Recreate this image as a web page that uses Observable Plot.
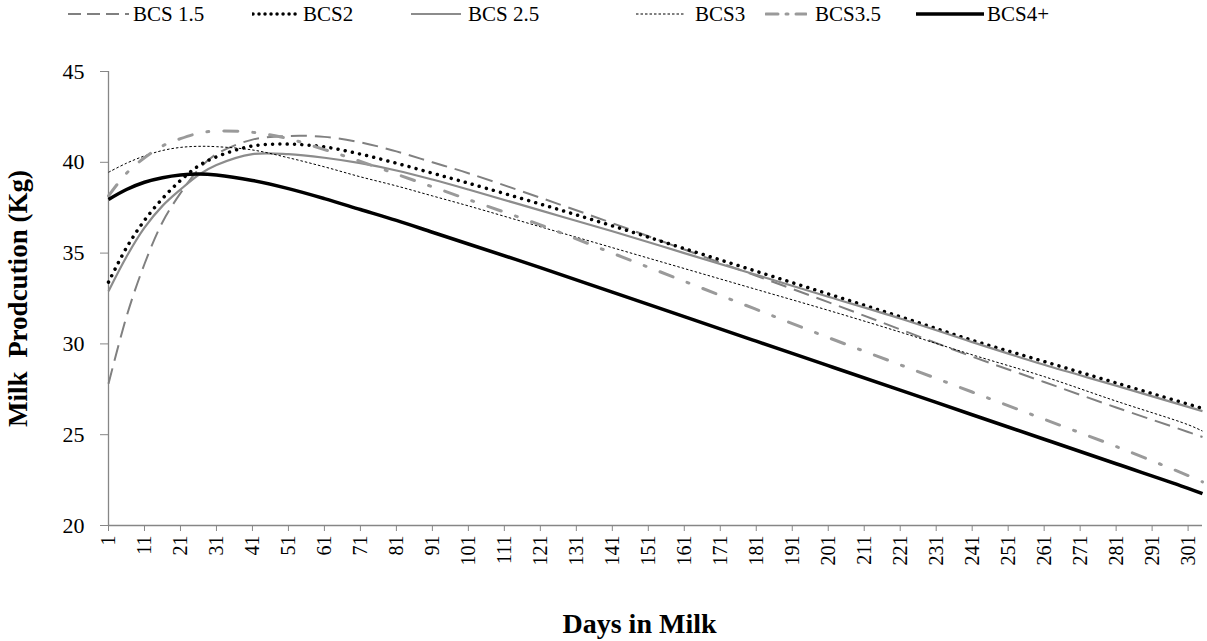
<!DOCTYPE html>
<html><head><meta charset="utf-8">
<script src="https://cdn.jsdelivr.net/npm/d3@7"></script>
<script src="https://cdn.jsdelivr.net/npm/@observablehq/plot@0.6"></script>
<style>
body{margin:0;background:#fff;font-family:"Liberation Serif",serif;}
#legend{height:30px;position:relative;font-size:21px;color:#000;}
.sw,.lt{position:absolute;top:0;height:28px;display:flex;align-items:center;white-space:nowrap;}
#chart svg{display:block;}
</style></head><body>
<div id="legend"></div>
<div id="chart"></div>
<script>
const days = [1,6,11,16,21,26,31,41,51,61,71,81,91,101,121,141,161,181,201,221,241,261,281,301,305];
const bcs15 = [27.8,31.5,34.4,36.7,38.3,39.6,40.45,41.25,41.45,41.4,41.1,40.6,40.0,39.4,38.05,36.65,35.2,33.75,32.3,30.8,29.3,27.9,26.5,25.15,24.87];
const bcs2  = [33.4,35.3,36.8,38.0,39.0,39.8,40.3,40.9,41.0,40.85,40.45,39.95,39.4,38.85,37.7,36.5,35.25,34.0,32.75,31.5,30.2,29.03,27.85,26.68,26.45];
const bcs25 = [32.9,34.8,36.4,37.6,38.5,39.3,39.85,40.45,40.45,40.25,39.95,39.55,39.05,38.5,37.35,36.2,35.0,33.8,32.6,31.4,30.1,28.85,27.7,26.53,26.3];
const bcs3  = [39.45,39.95,40.35,40.65,40.82,40.88,40.86,40.68,40.25,39.75,39.2,38.7,38.15,37.6,36.45,35.3,34.15,33.0,31.85,30.65,29.4,28.2,26.85,25.55,25.2];
const bcs35 = [38.15,39.4,40.25,40.9,41.3,41.6,41.72,41.65,41.3,40.7,40.05,39.35,38.65,37.95,36.55,35.0,33.45,31.9,30.35,28.85,27.35,25.85,24.35,22.75,22.4];
const bcs4  = [37.95,38.5,38.9,39.15,39.3,39.35,39.3,39.0,38.55,38.0,37.4,36.8,36.15,35.5,34.2,32.85,31.5,30.15,28.8,27.45,26.1,24.75,23.4,22.05,21.75];

const seriesNames = ["BCS 1.5","BCS2","BCS 2.5","BCS3","BCS3.5","BCS4+"];
const seriesValues = [bcs15,bcs2,bcs25,bcs3,bcs35,bcs4];
const xTicks = [1,11,21,31,41,51,61,71,81,91,101,111,121,131,141,151,161,171,181,191,201,211,221,231,241,251,261,271,281,291,301];
const yTicks = [20,25,30,35,40,45];

const styles = [
  {stroke:"#808080", strokeWidth:2, dash:"16,8", legendDash:"13,6", cap:"butt"},
  {stroke:"#000", strokeWidth:3.5, dash:"0.01,7.3", legendDash:"0.01,6", cap:"round"},
  {stroke:"#8c8c8c", strokeWidth:2.2, dash:null, legendDash:null, cap:"butt"},
  {stroke:"#000", strokeWidth:1, dash:"2.5,2", legendDash:"2.5,2", cap:"butt"},
  {stroke:"#9a9a9a", strokeWidth:3, dash:"14,15,2,15", legendDash:"12,8,2,8", cap:"round"},
  {stroke:"#000", strokeWidth:3.5, dash:null, legendDash:null, cap:"butt"}
];
// swatch left, swatch width, text left
const legendPos = [[67,63,133],[252,46,303],[410,52,468],[635,50,695],[765,42,815],[915,70,987]];

const data = [];
seriesNames.forEach((s,i)=>days.forEach((d,j)=>data.push({series:s, day:d, milk:seriesValues[i][j]})));

const lineMarks = seriesNames.map((s,i)=>Plot.line(data.filter(d=>d.series===s), {
  x:"day", y:"milk", curve:"catmull-rom",
  stroke: styles[i].stroke, strokeWidth: styles[i].strokeWidth,
  strokeDasharray: styles[i].dash || undefined,
  strokeLinecap: styles[i].cap
}));

const plot = Plot.plot({
  width:1207, height:611,
  marginTop:41, marginBottom:116, marginLeft:108, marginRight:5,
  style:{fontFamily:'"Liberation Serif", serif', fontSize:"21px", color:"#000", background:"#fff", overflow:"visible"},
  x:{domain:[1,305]},
  y:{domain:[20,45]},
  marks:[
    Plot.axisY({ticks:yTicks, tickSize:8, tickPadding:16, stroke:"#868686", fill:"#000", fontSize:22,
      label:"Milk  Prodcution (Kg)", labelAnchor:"center", labelArrow:"none", labelOffset:101}),
    Plot.axisX({ticks:xTicks, tickSize:6, tickPadding:4, tickRotate:-90, stroke:"#868686", fill:"#000", fontSize:20,
      label:"Days in Milk", labelAnchor:"center", labelArrow:"none", labelOffset:107}),
    Plot.ruleX([1], {stroke:"#868686", strokeWidth:1.3}),
    Plot.ruleY([20], {stroke:"#868686", strokeWidth:1.3}),
    ...lineMarks
  ]
});
document.getElementById("chart").appendChild(plot);
const gy = plot.querySelector('g[aria-label="y-axis label"]');
if (gy) { gy.setAttribute("font-weight","bold"); gy.setAttribute("font-size","27px"); gy.style.whiteSpace="pre"; }
const gx = plot.querySelector('g[aria-label="x-axis label"]');
if (gx) {
  gx.setAttribute("font-weight","bold"); gx.setAttribute("font-size","28px");
  const wrap = document.createElementNS("http://www.w3.org/2000/svg","g");
  wrap.setAttribute("transform","translate(-16,0)");
  gx.parentNode.insertBefore(wrap, gx);
  wrap.appendChild(gx);
}

const legend = document.getElementById("legend");
seriesNames.forEach((s,i)=>{
  const [left,w,tl] = legendPos[i];
  const st = styles[i];
  const sw = document.createElement("div");
  sw.className = "sw";
  sw.style.left = left+"px";
  sw.innerHTML = `<svg width="${w}" height="10"><line x1="1" x2="${w-1}" y1="5" y2="5" stroke="${st.stroke}" stroke-width="${st.strokeWidth}" ${st.legendDash?`stroke-dasharray="${st.legendDash}"`:""} stroke-linecap="${st.cap}"/></svg>`;
  legend.appendChild(sw);
  const lt = document.createElement("div");
  lt.className = "lt";
  lt.style.left = tl+"px";
  lt.textContent = s;
  legend.appendChild(lt);
});
</script>
</body></html>
